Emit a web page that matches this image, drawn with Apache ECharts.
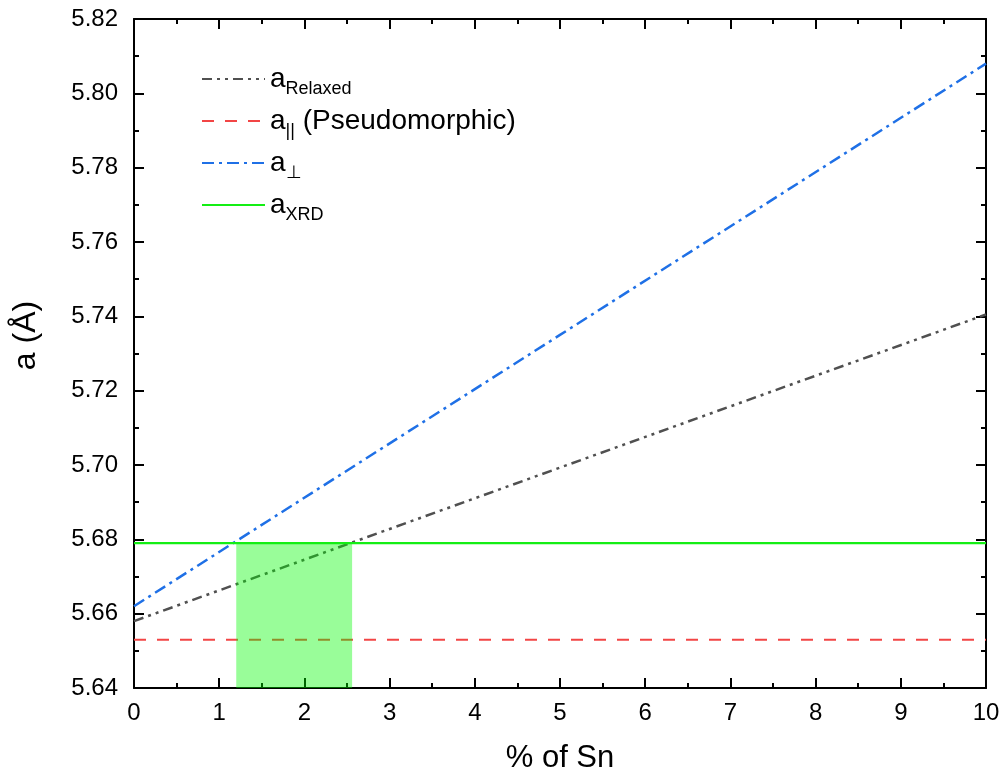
<!DOCTYPE html>
<html>
<head>
<meta charset="utf-8">
<script src="https://cdn.jsdelivr.net/npm/echarts@6/dist/echarts.min.js"></script>
<style>html,body{margin:0;padding:0;background:#fff}#c{width:1004px;height:779px}</style>
</head>
<body>
<div id="c"></div>
<script>
// ---- data ----
const snPercent = [0, 5, 10];
const aRelaxed = [5.658, 5.6993, 5.7405];
const aParallel = [5.653, 5.653, 5.653];
const aPerp = [5.662, 5.735, 5.808];
const aXRD = [5.679, 5.679, 5.679];
const shadeX = [1.2, 2.56];
const shadeTop = [5.679, 5.679];
const xTicks = { min: 0, max: 10, interval: 1 };
const yTicks = { min: 5.64, max: 5.82, interval: 0.02 };

const FONT = '"Liberation Sans", Arial, sans-serif';
const pair = (xs, ys) => xs.map((x, i) => [x, ys[i]]);

const legendLabels = {
  relaxed: '{a|a}{s|Relaxed}',
  parallel: '{a|a}{s|||}{a| (Pseudomorphic)}',
  perp: '{a|a}{s|⊥}',
  xrd: '{a|a}{s|XRD}'
};

const axisCommon = {
  axisLine: { show: true, onZero: false, lineStyle: { color: '#000', width: 2 } },
  axisTick: { show: true, inside: true, length: 10, lineStyle: { color: '#000', width: 2 } },
  minorTick: { show: true, splitNumber: 2, length: 5, lineStyle: { color: '#000', width: 2 } },
  splitLine: { show: false },
  minorSplitLine: { show: false }
};

const chart = echarts.init(document.getElementById('c'), null, { renderer: 'canvas' });
chart.setOption({
  animation: false,
  backgroundColor: '#fff',
  textStyle: { fontFamily: FONT },
  grid: { left: 134, right: 18, top: 19, bottom: 90, containLabel: false },
  legend: {
    orient: 'vertical',
    left: 196,
    top: 60,
    itemWidth: 63,
    itemHeight: 2,
    itemGap: 9,
    itemStyle: { opacity: 0 },
    data: ['relaxed', 'parallel', 'perp', 'xrd'],
    formatter: n => legendLabels[n],
    textStyle: {
      fontFamily: FONT,
      color: '#000',
      rich: {
        a: { fontSize: 28, lineHeight: 38, verticalAlign: 'middle', fontFamily: FONT, color: '#000' },
        s: { fontSize: 18, lineHeight: 14, verticalAlign: 'bottom', fontFamily: FONT, color: '#000' }
      }
    }
  },
  xAxis: [
    Object.assign({
      type: 'value', position: 'bottom',
      min: xTicks.min, max: xTicks.max, interval: xTicks.interval,
      name: '% of Sn', nameLocation: 'middle', nameGap: 55,
      nameTextStyle: { fontSize: 31, color: '#000', fontFamily: FONT },
      axisLabel: { fontSize: 24, color: '#000', margin: 13, fontFamily: FONT }
    }, axisCommon),
    Object.assign({
      type: 'value', position: 'top',
      min: xTicks.min, max: xTicks.max, interval: xTicks.interval,
      axisLabel: { show: false }
    }, axisCommon)
  ],
  yAxis: [
    Object.assign({
      type: 'value', position: 'left',
      min: yTicks.min, max: yTicks.max, interval: yTicks.interval,
      name: 'a (Å)', nameLocation: 'middle', nameGap: 92,
      nameTextStyle: { fontSize: 32, color: '#000', fontFamily: FONT, padding: [0, 0, 0, 36] },
      axisLabel: { fontSize: 24, color: '#000', margin: 16, fontFamily: FONT, formatter: v => v.toFixed(2) }
    }, axisCommon),
    Object.assign({
      type: 'value', position: 'right',
      min: yTicks.min, max: yTicks.max, interval: yTicks.interval,
      axisLabel: { show: false }
    }, axisCommon)
  ],
  series: [
    {
      name: 'parallel', type: 'line', symbol: 'none', z: 2,
      data: pair(snPercent, aParallel),
      lineStyle: { color: '#f24545', width: 2, type: [12, 11] },
      itemStyle: { color: '#f24545' }
    },
    {
      name: 'relaxed', type: 'line', symbol: 'none', z: 2,
      data: pair(snPercent, aRelaxed),
      lineStyle: { color: '#505050', width: 2.5, type: [10, 5, 3, 5, 3, 5] },
      itemStyle: { color: '#505050' }
    },
    {
      name: 'shade', type: 'line', symbol: 'none', z: 4,
      data: pair(shadeX, shadeTop),
      lineStyle: { width: 0 },
      areaStyle: { color: 'rgba(0,250,0,0.4)', opacity: 1, origin: 'start' },
      itemStyle: { color: 'rgba(0,250,0,0.4)' }
    },
    {
      name: 'perp', type: 'line', symbol: 'none', z: 3,
      data: pair(snPercent, aPerp),
      lineStyle: { color: '#1f70e6', width: 2.5, type: [12, 5, 3, 5] },
      itemStyle: { color: '#1f70e6' }
    },
    {
      name: 'xrd', type: 'line', symbol: 'none', z: 5,
      data: pair(snPercent, aXRD),
      lineStyle: { color: '#14ee14', width: 2.2, type: 'solid' },
      itemStyle: { color: '#14ee14' }
    }
  ]
});
</script>
</body>
</html>
